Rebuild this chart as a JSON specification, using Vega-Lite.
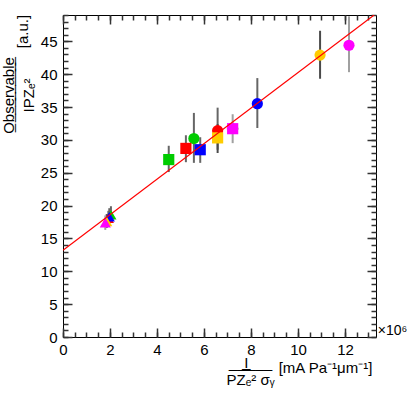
{
  "$schema": "https://vega.github.io/schema/vega-lite/v6.json",
  "width": 313,
  "height": 322,
  "autosize": {"type": "none"},
  "padding": {"left": 63, "top": 15, "right": 39, "bottom": 59},
  "background": "white",
  "config": {
    "view": {"stroke": "black", "strokeWidth": 1},
    "axis": {
      "grid": false,
      "domain": false,
      "labelFont": "Liberation Sans",
      "titleFont": "Liberation Sans",
      "labelColor": "black",
      "titleColor": "black",
      "labelFontSize": 15,
      "titleFontSize": 15,
      "titleFontWeight": "normal"
    }
  },
  "datasets": {
    "pts": [
      {"series": "yellow", "shape": "circle", "x": 10.94, "y": 42.9, "ylo": 39.3, "yhi": 46.6},
      {"series": "magenta", "shape": "circle", "x": 12.17, "y": 44.4, "ylo": 40.3, "yhi": 48.8},
      {"series": "blue", "shape": "circle", "x": 8.27, "y": 35.5, "ylo": 31.8, "yhi": 39.4},
      {"series": "magenta", "shape": "square", "x": 7.22, "y": 31.7, "ylo": 29.5, "yhi": 33.9, "xlo": 6.97, "xhi": 7.47},
      {"series": "red", "shape": "circle", "x": 6.58, "y": 31.4, "ylo": 28.5, "yhi": 34.9},
      {"series": "yellow", "shape": "square", "x": 6.58, "y": 30.3, "ylo": 28.0, "yhi": 32.4},
      {"series": "green", "shape": "circle", "x": 5.57, "y": 30.2, "ylo": 26.5, "yhi": 34.1},
      {"series": "red", "shape": "square", "x": 5.23, "y": 28.7, "ylo": 26.6, "yhi": 30.7},
      {"series": "blue", "shape": "square", "x": 5.84, "y": 28.5, "ylo": 26.5, "yhi": 30.4},
      {"series": "green", "shape": "square", "x": 4.5, "y": 27.0, "ylo": 25.1, "yhi": 29.1},
      {"series": "red", "shape": "triangle", "x": 1.93, "y": 18.1, "ylo": 17.2, "yhi": 19.2},
      {"series": "green", "shape": "triangle", "x": 2.04, "y": 18.6, "ylo": 17.8, "yhi": 19.9},
      {"series": "blue", "shape": "triangle", "x": 1.97, "y": 18.3, "ylo": 17.5, "yhi": 19.6},
      {"series": "yellow", "shape": "triangle", "x": 1.86, "y": 17.6, "ylo": 16.6, "yhi": 18.7},
      {"series": "magenta", "shape": "triangle", "x": 1.8, "y": 17.4, "ylo": 16.3, "yhi": 18.5}
    ],
    "fit": [
      {"x": 0, "y": 13.2},
      {"x": 13.24, "y": 49}
    ]
  },
  "layer": [
    {
      "data": {"name": "pts"},
      "mark": {"type": "rule", "strokeWidth": 2},
      "encoding": {
        "x": {"field": "x", "type": "quantitative",
          "scale": {"domain": [0, 13.32], "nice": false, "zero": false},
          "axis": {"orient": "top", "values": [0,0.5,1,1.5,2,2.5,3,3.5,4,4.5,5,5.5,6,6.5,7,7.5,8,8.5,9,9.5,10,10.5,11,11.5,12,12.5,13], "labels": false, "tickSize": -5, "tickWidth": 1.5, "tickColor": "#333333", "title": null}},
        "y": {"field": "ylo", "type": "quantitative",
          "scale": {"domain": [0, 49], "nice": false, "zero": false},
          "axis": {"orient": "right", "values": [0,1,2,3,4,5,6,7,8,9,10,11,12,13,14,15,16,17,18,19,20,21,22,23,24,25,26,27,28,29,30,31,32,33,34,35,36,37,38,39,40,41,42,43,44,45,46,47,48,49], "labels": false, "tickSize": -5, "tickWidth": 1.5, "tickColor": "#333333", "title": null}},
        "y2": {"field": "yhi"},
        "color": {"field": "series", "type": "nominal", "legend": null,
          "scale": {"domain": ["red", "green", "blue", "yellow", "magenta"], "range": ["#666666", "#666666", "#666666", "#4a4a4a", "#a0a0a0"]}}
      }
    },
    {
      "data": {"name": "pts"},
      "transform": [{"filter": "isValid(datum.xlo)"}],
      "mark": {"type": "rule", "strokeWidth": 2, "color": "#a0a0a0"},
      "encoding": {
        "x": {"field": "xlo", "type": "quantitative",
          "scale": {"domain": [0, 13.32], "nice": false, "zero": false},
          "axis": {"orient": "bottom", "values": [0,0.5,1,1.5,2,2.5,3,3.5,4,4.5,5,5.5,6,6.5,7,7.5,8,8.5,9,9.5,10,10.5,11,11.5,12,12.5,13], "labels": false, "tickSize": -5, "tickWidth": 1.5, "tickColor": "#333333",
            "title": "[mA Pa\u207B\u00B9\u03BCm\u207B\u00B9]", "titleX": 262, "titleY": 30, "titleAlign": "center", "titleBaseline": "middle", "titleFontSize": 15}},
        "x2": {"field": "xhi"},
        "y": {"field": "y", "type": "quantitative",
          "scale": {"domain": [0, 49], "nice": false, "zero": false},
          "axis": {"orient": "left", "values": [0,1,2,3,4,5,6,7,8,9,10,11,12,13,14,15,16,17,18,19,20,21,22,23,24,25,26,27,28,29,30,31,32,33,34,35,36,37,38,39,40,41,42,43,44,45,46,47,48,49], "labels": false, "tickSize": -5, "tickWidth": 1.5, "tickColor": "#333333",
            "title": "[a.u.]", "titleX": -41, "titleY": 16, "titleAngle": -90, "titleAlign": "center", "titleBaseline": "middle", "titleFontSize": 15}}
      }
    },
    {
      "data": {"name": "pts"},
      "mark": {"type": "point", "filled": true, "opacity": 1, "size": 125},
      "encoding": {
        "x": {"field": "x", "type": "quantitative",
          "scale": {"domain": [0, 13.32], "nice": false, "zero": false},
          "axis": {"orient": "bottom", "values": [0,2,4,6,8,10,12], "tickSize": -9, "tickWidth": 1.5, "tickColor": "#333333", "labelPadding": 14, "labelFlush": false,
            "title": ["\u2007\u0332\u2007\u0332\u2009\u0332I\u0332\u2009\u0332\u2007\u0332\u2007\u0332", "PZ\u2091\u00B2 \u03C3\u1D67"], "titleX": 187, "titleY": 25, "titleAlign": "center", "titleBaseline": "middle", "titleLineHeight": 17}},
        "y": {"field": "y", "type": "quantitative",
          "scale": {"domain": [0, 49], "nice": false, "zero": false},
          "axis": {"orient": "left", "values": [0,5,10,15,20,25,30,35,40,45], "tickSize": -9, "tickWidth": 1.5, "tickColor": "#333333", "labelPadding": 15, "labelFlush": false,
            "title": ["O\u0332b\u0332s\u0332e\u0332r\u0332v\u0332a\u0332b\u0332l\u0332e\u0332", "IPZ\u2091\u00B2"], "titleX": -55, "titleY": 80, "titleAngle": -90, "titleAlign": "center", "titleBaseline": "middle", "titleLineHeight": 20}},
        "shape": {"field": "shape", "type": "nominal", "legend": null,
          "scale": {"domain": ["circle", "square", "triangle"], "range": ["circle", "square", "triangle-up"]}},
        "color": {"field": "series", "type": "nominal", "legend": null,
          "scale": {"domain": ["red", "green", "blue", "yellow", "magenta"], "range": ["#ff0000", "#00cc00", "#0000ff", "#ffcc00", "#ff00ff"]}}
      }
    },
    {
      "data": {"name": "fit"},
      "mark": {"type": "line", "color": "#ff0000", "strokeWidth": 1.2, "clip": true},
      "encoding": {
        "x": {"field": "x", "type": "quantitative",
          "scale": {"domain": [0, 13.32], "nice": false, "zero": false},
          "axis": {"orient": "top", "values": [0,2,4,6,8,10,12], "labels": false, "tickSize": -9, "tickWidth": 1.5, "tickColor": "#333333",
            "title": "\u00D710\u2076", "titleX": 329, "titleY": 315, "titleAlign": "center", "titleBaseline": "middle", "titleFontSize": 14}},
        "y": {"field": "y", "type": "quantitative",
          "scale": {"domain": [0, 49], "nice": false, "zero": false},
          "axis": {"orient": "right", "values": [0,5,10,15,20,25,30,35,40,45], "labels": false, "tickSize": -9, "tickWidth": 1.5, "tickColor": "#333333", "title": null}}
      }
    }
  ],
  "resolve": {"axis": {"x": "independent", "y": "independent"}, "scale": {"color": "independent"}}
}
